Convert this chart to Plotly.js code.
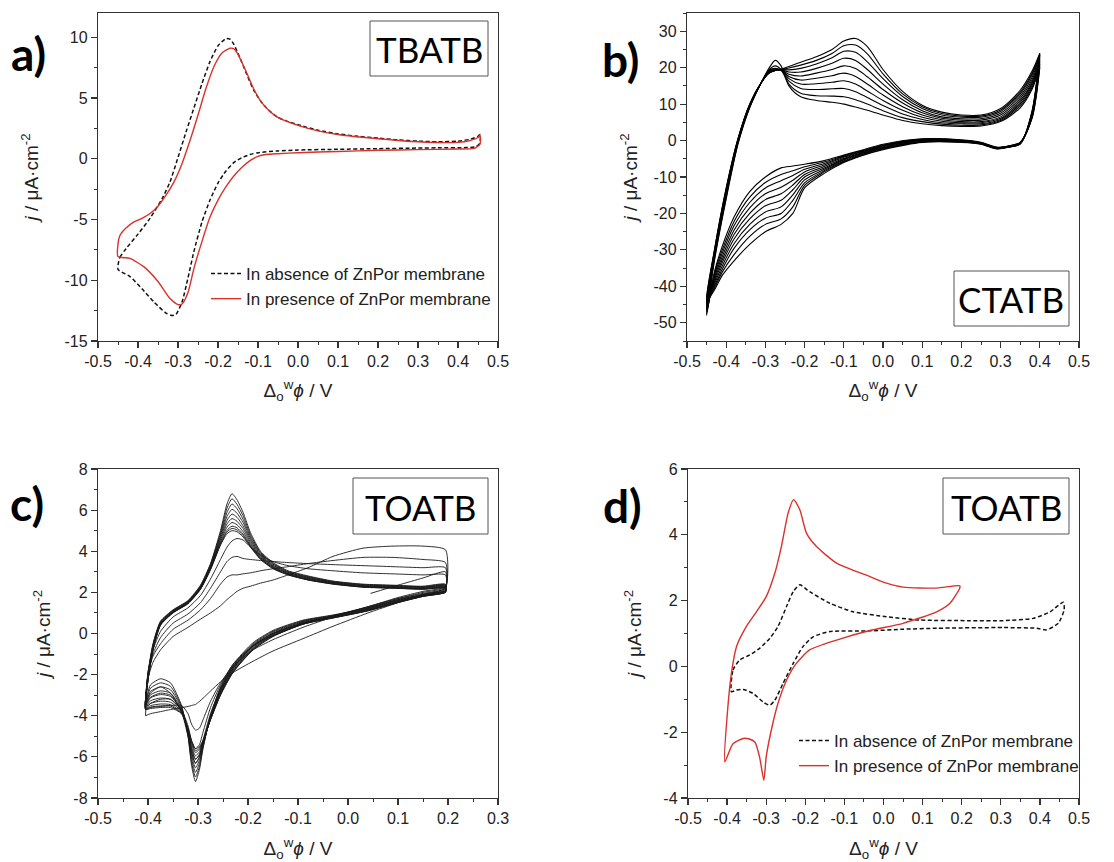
<!DOCTYPE html>
<html><head><meta charset="utf-8">
<script src="https://cdn.plot.ly/plotly-3.0.1.min.js"></script>
<style>html,body{margin:0;padding:0;background:#fff}#chart{width:1114px;height:862px}</style>
</head><body><div id="chart"></div>
<script>
// ---------- Panel a (TBATB) ----------
const aAbsX = [-0.45,-0.445,-0.43,-0.40,-0.37,-0.34,-0.32,-0.30,-0.28,-0.26,-0.24,-0.22,-0.20,-0.18,-0.17,-0.16,-0.145,-0.13,-0.11,-0.09,-0.07,-0.05,-0.02,0.0,0.05,0.10,0.15,0.20,0.25,0.30,0.35,0.40,0.43,0.45,0.455,
  0.455,0.445,0.42,0.35,0.30,0.20,0.10,0.0,-0.05,-0.10,-0.12,-0.14,-0.16,-0.18,-0.20,-0.22,-0.24,-0.26,-0.275,-0.29,-0.305,-0.315,-0.33,-0.36,-0.39,-0.42,-0.45];
const aAbsY = [-9.1,-8.1,-7.4,-6.2,-4.9,-3.3,-1.9,0.1,2.2,4.2,6.2,8.0,9.3,9.9,9.85,9.4,8.3,7.1,5.6,4.6,3.9,3.4,3.0,2.8,2.35,2.05,1.85,1.7,1.55,1.45,1.4,1.45,1.6,1.85,2.0,
  1.3,1.0,0.92,0.9,0.88,0.83,0.78,0.72,0.65,0.5,0.35,0.1,-0.3,-1.0,-2.0,-3.4,-5.2,-7.6,-9.8,-11.8,-12.8,-12.9,-12.7,-11.8,-10.7,-9.7,-9.1];
const aPreX = [-0.45,-0.45,-0.445,-0.43,-0.41,-0.39,-0.37,-0.35,-0.33,-0.31,-0.29,-0.27,-0.25,-0.23,-0.21,-0.19,-0.17,-0.16,-0.15,-0.13,-0.11,-0.09,-0.07,-0.05,0.0,0.05,0.10,0.20,0.30,0.40,0.43,0.45,0.455,
  0.455,0.44,0.40,0.30,0.20,0.10,0.0,-0.05,-0.08,-0.10,-0.12,-0.14,-0.16,-0.18,-0.20,-0.22,-0.24,-0.26,-0.275,-0.29,-0.30,-0.32,-0.35,-0.385,-0.42,-0.45];
const aPreY = [-8.05,-7.0,-6.3,-5.7,-5.2,-4.9,-4.5,-3.9,-3.0,-1.9,-0.4,1.5,3.6,5.8,7.6,8.7,9.1,9.05,8.6,7.2,5.7,4.6,3.9,3.4,2.75,2.3,2.0,1.65,1.4,1.35,1.5,1.75,1.95,
  1.2,0.85,0.8,0.75,0.7,0.6,0.5,0.42,0.35,0.2,-0.15,-0.7,-1.4,-2.3,-3.4,-4.8,-6.8,-9.0,-11.0,-11.95,-12.0,-11.5,-10.1,-8.9,-8.2,-8.05];

// ---------- Panel b (CTATB), repeated cycles ----------
const bUpX = [-0.45,-0.43,-0.40,-0.37,-0.34,-0.31,-0.29,-0.275,-0.26,-0.24,-0.21,-0.17,-0.13,-0.10,-0.07,-0.04,0.0,0.05,0.10,0.15,0.20,0.25,0.30,0.35,0.38,0.40];
const bLowX = [0.40,0.38,0.35,0.32,0.29,0.25,0.20,0.10,0.0,-0.05,-0.10,-0.15,-0.20,-0.23,-0.26,-0.30,-0.34,-0.38,-0.41,-0.43,-0.45];
const bUpY = [
 [-48,-33,-16,-1,9,16,20,22,20.5,15,12,11,10.5,10,9.2,8.3,7.0,5.5,4.6,4.1,3.9,4.0,5.2,9.0,14,20],
 [-47.5,-32.5,-15.5,-0.8,9.2,16,19.5,20.5,19.5,15.5,13,12.3,12.2,12,11.2,10,8.2,6.3,5.2,4.5,4.2,4.3,5.5,9.5,14.5,20.5],
 [-47,-32,-15,-0.5,9.4,16,19.3,19.8,19.3,16.3,14.3,14,14.2,14.3,13.4,11.8,9.6,7.3,5.8,4.9,4.6,4.6,5.8,10,15,21],
 [-46.5,-31.8,-14.8,-0.3,9.5,16,19.1,19.5,19.3,17,15.5,15.6,16,16.4,15.5,13.6,11,8.3,6.4,5.3,4.9,4.9,6.1,10.5,15.5,21.5],
 [-46,-31.5,-14.5,0,9.6,16,19,19.4,19.3,17.6,16.6,17.1,17.8,18.5,17.6,15.5,12.5,9.3,7.0,5.7,5.2,5.2,6.5,11,16,22],
 [-45.5,-31,-14,0,9.7,16,18.9,19.3,19.4,18.2,17.7,18.5,19.5,20.5,19.8,17.5,14,10.3,7.6,6.1,5.6,5.6,7.0,11.6,16.6,22.5],
 [-45,-30.8,-13.8,0.2,9.8,16,18.8,19.3,19.4,18.8,18.8,19.8,21.2,22.6,22,19.5,15.5,11.2,8.2,6.5,6.0,6.0,7.5,12.2,17.3,23],
 [-44.5,-30.5,-13.5,0.3,9.9,16,18.7,19.2,19.5,19.4,19.8,21.0,22.7,24.5,24.2,21.6,17,12.1,8.8,7.0,6.4,6.4,8.0,12.8,18,23.4],
 [-44.2,-30.2,-13.2,0.4,10,16,18.6,19.2,19.5,19.9,20.7,22.0,23.9,26,26.2,23.8,18.3,12.8,9.3,7.4,6.7,6.7,8.4,13.3,18.5,23.7],
 [-44,-30,-13,0.5,10,16,18.5,19.2,19.6,20.3,21.5,23,25,27.3,28,25.8,19.5,13.5,9.7,7.8,7.0,7.0,8.8,13.8,19,24]
];
const bLowY = [
 [20,6,-0.5,-1.5,-1.8,-0.5,0.2,0.5,-1.0,-2.5,-4.0,-5.5,-6.5,-7.0,-7.5,-10,-14,-21,-29,-36,-48],
 [20.5,6.2,-0.5,-1.5,-1.9,-0.6,0.1,0.4,-1.2,-2.7,-4.2,-5.9,-7.2,-8.3,-9.3,-11.5,-15.5,-22.2,-30,-36.5,-47.5],
 [21,6.4,-0.6,-1.6,-1.9,-0.6,0.0,0.3,-1.4,-2.9,-4.4,-6.3,-7.9,-9.6,-11,-13,-17,-23.4,-30.9,-37,-47],
 [21.5,6.6,-0.6,-1.6,-2.0,-0.7,-0.1,0.2,-1.5,-3.0,-4.6,-6.7,-8.6,-10.9,-12.8,-14.6,-18.5,-24.6,-31.8,-37.6,-46.5],
 [22,6.9,-0.7,-1.6,-2.0,-0.7,-0.1,0.1,-1.7,-3.2,-4.9,-7.1,-9.3,-12.2,-14.6,-16.2,-20,-25.8,-32.7,-38.2,-46],
 [22.5,7.1,-0.7,-1.7,-2.1,-0.8,-0.2,0.0,-1.9,-3.4,-5.1,-7.5,-10,-13.5,-16.4,-17.9,-21.5,-27,-33.5,-38.8,-45.5],
 [23,7.3,-0.8,-1.7,-2.1,-0.8,-0.3,-0.2,-2.0,-3.5,-5.3,-7.9,-10.8,-14.9,-18.2,-19.6,-23,-28.3,-34.4,-39.4,-45],
 [23.4,7.6,-0.8,-1.8,-2.2,-0.9,-0.3,-0.3,-2.2,-3.7,-5.6,-8.3,-11.6,-16.4,-20,-21.3,-24.5,-29.6,-35.3,-40,-44.5],
 [23.7,7.8,-0.9,-1.8,-2.2,-0.9,-0.4,-0.4,-2.3,-3.9,-5.8,-8.6,-12.3,-18.2,-21.5,-23,-26.3,-31.3,-36.1,-40.5,-44.2],
 [24,8,-1,-1.8,-2.3,-1.0,-0.5,-0.5,-2.5,-4.0,-6.0,-9,-13,-20,-23,-25,-28.5,-33,-37,-41,-44]
];

// ---------- Panel c (TOATB), repeated cycles ----------
const cStartX = [0.045,0.10,0.15,0.195];
const cStartY = [1.95,2.35,2.7,3.0];
const cUpX = [-0.405,-0.40,-0.39,-0.375,-0.35,-0.32,-0.295,-0.275,-0.255,-0.242,-0.232,-0.222,-0.21,-0.195,-0.175,-0.15,-0.12,-0.08,-0.03,0.03,0.09,0.15,0.195];
const cLowX = [0.195,0.15,0.10,0.04,-0.03,-0.09,-0.15,-0.19,-0.23,-0.255,-0.275,-0.29,-0.297,-0.305,-0.313,-0.32,-0.333,-0.355,-0.375,-0.395,-0.405];
const cUpY = [
 null,
 [-4.0,-2.2,-1.4,-0.8,-0.15,0.3,0.7,1.0,1.35,1.65,1.85,2.05,2.2,2.3,2.45,2.6,2.85,3.2,3.75,4.15,4.25,4.25,4.07],
 [-3.7,-2.0,-1.1,-0.5,0.2,0.65,1.15,1.7,2.4,2.75,2.85,2.85,2.9,2.95,3.05,3.15,3.25,3.4,3.55,3.7,3.7,3.6,3.45],
 [-3.6,-2.0,-1.0,-0.2,0.5,0.95,1.5,2.2,3.0,3.5,3.7,3.75,3.65,3.6,3.55,3.5,3.45,3.4,3.35,3.3,3.25,3.2,3.2],
 [-3.5,-1.9,-0.8,0.1,0.8,1.25,1.85,2.65,3.6,4.2,4.5,4.62,4.55,4.2,3.8,3.5,3.3,3.15,3.05,2.95,2.9,2.85,2.85],
 [-3.7,-2.3,-0.8,0.4,1.0,1.45,2.15,3.1,4.3,4.85,5.0,4.95,4.7,4.2,3.6,3.15,2.85,2.6,2.4,2.25,2.2,2.15,2.2],
 [-3.68,-2.28,-0.78,0.41,1.01,1.46,2.16,3.12,4.34,4.94,5.11,5.04,4.77,4.24,3.62,3.17,2.86,2.61,2.41,2.26,2.21,2.16,2.21],
 [-3.65,-2.25,-0.76,0.42,1.02,1.47,2.17,3.14,4.38,5.02,5.22,5.14,4.84,4.28,3.65,3.19,2.87,2.62,2.42,2.27,2.22,2.17,2.22],
 [-3.61,-2.21,-0.73,0.44,1.03,1.48,2.19,3.17,4.45,5.17,5.4,5.29,4.96,4.35,3.69,3.22,2.89,2.64,2.43,2.28,2.23,2.18,2.24],
 [-3.57,-2.17,-0.7,0.47,1.05,1.5,2.22,3.2,4.53,5.33,5.59,5.46,5.1,4.43,3.73,3.25,2.92,2.67,2.45,2.3,2.25,2.2,2.27],
 [-3.52,-2.12,-0.67,0.49,1.07,1.52,2.24,3.24,4.62,5.5,5.81,5.65,5.24,4.52,3.78,3.29,2.94,2.69,2.47,2.32,2.27,2.22,2.29],
 [-3.47,-2.07,-0.63,0.52,1.09,1.54,2.27,3.27,4.71,5.69,6.04,5.85,5.4,4.61,3.83,3.32,2.97,2.72,2.49,2.34,2.29,2.24,2.32],
 [-3.41,-2.01,-0.58,0.54,1.11,1.56,2.29,3.32,4.8,5.89,6.3,6.07,5.56,4.7,3.89,3.37,2.99,2.74,2.51,2.36,2.31,2.26,2.34],
 [-3.36,-1.96,-0.54,0.57,1.13,1.58,2.32,3.36,4.9,6.1,6.55,6.28,5.73,4.8,3.94,3.41,3.02,2.77,2.53,2.38,2.33,2.28,2.37],
 [-3.3,-1.9,-0.5,0.6,1.15,1.6,2.35,3.4,5.0,6.3,6.8,6.5,5.9,4.9,4.0,3.45,3.05,2.8,2.55,2.4,2.35,2.3,2.4]
];
const cLowY = [
 [2.2,1.9,1.5,1.0,0.35,-0.25,-0.85,-1.35,-1.9,-2.35,-2.8,-3.15,-3.3,-3.45,-3.5,-3.55,-3.6,-3.7,-3.8,-3.9,-4.0],
 [2.3,2.05,1.75,1.3,0.8,0.3,-0.3,-0.8,-1.6,-2.4,-3.3,-4.2,-4.6,-4.7,-4.4,-3.9,-3.5,-3.5,-3.55,-3.6,-3.7],
 [2.25,2.0,1.7,1.3,0.85,0.45,-0.1,-0.6,-1.5,-2.5,-3.6,-4.8,-5.4,-5.6,-5.2,-4.5,-3.7,-3.2,-3.2,-3.4,-3.6],
 [2.2,1.95,1.7,1.3,0.85,0.5,0.0,-0.6,-1.6,-2.7,-3.9,-5.2,-5.9,-6.1,-5.6,-4.8,-3.8,-3.0,-2.9,-3.1,-3.5],
 [2.15,1.9,1.65,1.25,0.85,0.5,0.0,-0.6,-1.7,-2.8,-4.0,-5.3,-6.0,-6.3,-5.8,-5.0,-3.8,-2.9,-2.6,-2.9,-3.4],
 [2.0,1.8,1.5,1.1,0.75,0.45,-0.15,-0.8,-1.9,-3.0,-4.2,-5.2,-5.5,-5.6,-5.2,-4.6,-3.9,-3.6,-3.6,-3.65,-3.7],
 [2.01,1.81,1.51,1.11,0.76,0.46,-0.13,-0.78,-1.88,-2.98,-4.19,-5.22,-5.57,-5.7,-5.27,-4.62,-3.88,-3.53,-3.52,-3.58,-3.68],
 [2.01,1.81,1.52,1.12,0.77,0.47,-0.11,-0.76,-1.85,-2.95,-4.18,-5.25,-5.63,-5.79,-5.34,-4.65,-3.85,-3.46,-3.43,-3.51,-3.65],
 [2.02,1.82,1.53,1.13,0.78,0.49,-0.08,-0.72,-1.81,-2.91,-4.16,-5.29,-5.74,-5.95,-5.46,-4.69,-3.81,-3.34,-3.29,-3.4,-3.61],
 [2.03,1.83,1.55,1.15,0.8,0.52,-0.05,-0.68,-1.77,-2.87,-4.13,-5.33,-5.86,-6.13,-5.6,-4.73,-3.77,-3.2,-3.14,-3.27,-3.57],
 [2.05,1.85,1.57,1.17,0.82,0.54,-0.02,-0.64,-1.72,-2.82,-4.11,-5.38,-6.0,-6.32,-5.74,-4.78,-3.72,-3.06,-2.97,-3.13,-3.52],
 [2.06,1.86,1.59,1.19,0.84,0.57,0.02,-0.6,-1.67,-2.77,-4.08,-5.43,-6.14,-6.53,-5.9,-4.83,-3.67,-2.9,-2.79,-2.98,-3.47],
 [2.07,1.87,1.61,1.21,0.86,0.59,0.07,-0.55,-1.61,-2.71,-4.06,-5.49,-6.29,-6.75,-6.06,-4.89,-3.61,-2.74,-2.59,-2.82,-3.41],
 [2.09,1.89,1.63,1.23,0.88,0.62,0.11,-0.5,-1.56,-2.66,-4.03,-5.54,-6.45,-6.98,-6.23,-4.94,-3.56,-2.57,-2.4,-2.66,-3.36],
 [2.1,1.9,1.65,1.25,0.9,0.65,0.15,-0.45,-1.5,-2.6,-4.0,-5.6,-6.6,-7.2,-6.4,-5.0,-3.5,-2.4,-2.2,-2.5,-3.3]
];

// ---------- Panel d (TOATB, with / without membrane) ----------
const dAbsX = [-0.389,-0.385,-0.368,-0.342,-0.317,-0.291,-0.27,-0.248,-0.231,-0.214,-0.189,-0.137,-0.078,0.008,0.093,0.221,0.306,0.383,0.426,0.46,
  0.462,0.447,0.417,0.392,0.306,0.136,0.05,-0.035,-0.137,-0.18,-0.206,-0.231,-0.257,-0.278,-0.291,-0.308,-0.334,-0.359,-0.376,-0.389];
const dAbsY = [-0.77,-0.11,0.19,0.35,0.55,0.85,1.21,1.82,2.27,2.48,2.27,1.92,1.66,1.51,1.41,1.39,1.39,1.46,1.66,1.95,
  1.72,1.31,1.11,1.16,1.18,1.16,1.13,1.08,1.06,0.9,0.6,0.09,-0.52,-1.03,-1.18,-1.08,-0.82,-0.7,-0.72,-0.77];
const dPreX = [-0.406,-0.398,-0.389,-0.376,-0.351,-0.325,-0.30,-0.278,-0.261,-0.244,-0.23,-0.214,-0.197,-0.172,-0.12,-0.035,0.008,0.05,0.136,0.195,
  0.195,0.17,0.136,0.05,-0.035,-0.12,-0.189,-0.223,-0.248,-0.27,-0.287,-0.30,-0.306,-0.317,-0.329,-0.345,-0.359,-0.385,-0.406];
const dPreY = [-2.9,-1.23,-0.21,0.6,1.21,1.66,2.12,2.83,3.65,4.66,5.07,4.76,4.05,3.65,3.14,2.73,2.53,2.41,2.38,2.45,
  2.38,1.92,1.66,1.31,1.09,0.8,0.5,0.09,-0.42,-1.13,-1.94,-2.75,-3.46,-2.75,-2.3,-2.2,-2.19,-2.35,-2.9];

// ---------- Tick labels ----------
const xTickVals = [-0.5,-0.4,-0.3,-0.2,-0.1,0.0,0.1,0.2,0.3,0.4,0.5];
const xTickText = ['-0.5','-0.4','-0.3','-0.2','-0.1','0.0','0.1','0.2','0.3','0.4','0.5'];
const cXTickVals = [-0.5,-0.4,-0.3,-0.2,-0.1,0.0,0.1,0.2,0.3];
const cXTickText = ['-0.5','-0.4','-0.3','-0.2','-0.1','0.0','0.1','0.2','0.3'];
const aYTickVals = [-15,-10,-5,0,5,10];
const aYTickText = ['-15','-10','-5','0','5','10'];
const bYTickVals = [-50,-40,-30,-20,-10,0,10,20,30];
const bYTickText = ['-50','-40','-30','-20','-10','0','10','20','30'];
const cYTickVals = [-8,-6,-4,-2,0,2,4,6,8];
const cYTickText = ['-8','-6','-4','-2','0','2','4','6','8'];
const dYTickVals = [-4,-2,0,2,4,6];
const dYTickText = ['-4','-2','0','2','4','6'];
const legendNames = ['In absence of ZnPor membrane','In presence of ZnPor membrane'];
const panelLetters = ['a)','b)','c)','d)'];
const panelSalts = ['TBATB','CTATB','TOATB','TOATB'];

// ---------- Build ----------
const W = 1114, H = 862;
const px = p => p / W, py = p => 1 - p / H;
const FONT = 'Liberation Sans, Arial, sans-serif';
const LABELFONT = 'Lato, Open Sans, sans-serif';
const DASH = '4px,2.5px';
const traces = [];

traces.push({x: aAbsX, y: aAbsY, xaxis:'x', yaxis:'y', mode:'lines', name: legendNames[0], legend:'legend',
  line:{color:'#111', width:1.5, dash:DASH, shape:'spline', smoothing:0.6}});
traces.push({x: aPreX, y: aPreY, xaxis:'x', yaxis:'y', mode:'lines', name: legendNames[1], legend:'legend',
  line:{color:'#d9312b', width:1.4, shape:'spline', smoothing:0.6}});

for (let i = 0; i < bUpY.length; i++) {
  traces.push({x: bUpX.concat(bLowX), y: bUpY[i].concat(bLowY[i]), xaxis:'x2', yaxis:'y2', mode:'lines', showlegend:false,
    line:{color:'#000', width:1.1, shape:'spline', smoothing:0.8}});
}
for (let i = 0; i < cLowY.length; i++) {
  const ux = i === 0 ? cStartX : cUpX;
  const uy = i === 0 ? cStartY : cUpY[i];
  traces.push({x: ux.concat(cLowX), y: uy.concat(cLowY[i]), xaxis:'x3', yaxis:'y3', mode:'lines', showlegend:false,
    line:{color:'#1a1a1a', width:0.9, shape:'spline', smoothing:0.6}});
}

traces.push({x: dAbsX, y: dAbsY, xaxis:'x4', yaxis:'y4', mode:'lines', name: legendNames[0], legend:'legend2',
  line:{color:'#111', width:1.5, dash:DASH, shape:'spline', smoothing:0.6}});
traces.push({x: dPreX, y: dPreY, xaxis:'x4', yaxis:'y4', mode:'lines', name: legendNames[1], legend:'legend2',
  line:{color:'#d9312b', width:1.4, shape:'spline', smoothing:0.6}});

const xTitle = 'Δ<sub>o</sub><sup>w</sup><i>ϕ</i> / V';
const yTitle = '<i>j</i> / μA·cm<sup>-2</sup>';

function xAxis(dom, anchor, range, vals, text, standoff) {
  return {domain: dom, anchor: anchor, range: range, showline:true, mirror:true, linecolor:'#333', linewidth:1.2,
    ticks:'outside', ticklen:6, tickwidth:1.2, tickcolor:'#333', showgrid:false, zeroline:false,
    tickmode:'array', tickvals: vals, ticktext: text,
    minor:{ticks:'outside', ticklen:3, tickwidth:1, tickcolor:'#333', tickmode:'linear', tick0:0, dtick:0.05, showgrid:false},
    tickfont:{family:FONT, size:16, color:'#222'},
    title:{text: xTitle, font:{family:FONT, size:19, color:'#222'}, standoff: standoff}};
}
function yAxis(dom, anchor, range, vals, text, minorStep, standoff) {
  return {domain: dom, anchor: anchor, range: range, showline:true, mirror:true, linecolor:'#333', linewidth:1.2,
    ticks:'outside', ticklen:6, tickwidth:1.2, tickcolor:'#333', showgrid:false, zeroline:false,
    tickmode:'array', tickvals: vals, ticktext: text,
    minor:{ticks:'outside', ticklen:3, tickwidth:1, tickcolor:'#333', tickmode:'linear', tick0:0, dtick:minorStep, showgrid:false},
    tickfont:{family:FONT, size:16, color:'#222'},
    title:{text: yTitle, font:{family:FONT, size:19, color:'#222'}, standoff: standoff}};
}

function cornerLabel(t, x, y) {
  return {text:'<b>'+t+'</b>', x:px(x), y:py(y), xref:'paper', yref:'paper', xanchor:'center', yanchor:'middle',
    showarrow:false, font:{family:LABELFONT, size:46, color:'#000'}};
}
function saltLabel(t, x, y) {
  return {text:t, x:px(x), y:py(y), xref:'paper', yref:'paper', xanchor:'center', yanchor:'middle',
    showarrow:false, font:{family:LABELFONT, size:35, color:'#000'}};
}
function box(x0, y0, x1, y1) {
  return {type:'rect', xref:'paper', yref:'paper', x0:px(x0), x1:px(x1), y0:py(y1), y1:py(y0), line:{color:'#555', width:1}};
}

const topY = [py(341), py(13)], botY = [py(798), py(469)];
const layout = {
  width: W, height: H, margin:{l:0,r:0,t:0,b:0}, paper_bgcolor:'#fff', plot_bgcolor:'#fff',
  font:{family:FONT, color:'#222', size:16},
  xaxis: xAxis([px(98), px(498)], 'y', [-0.5, 0.5], xTickVals, xTickText, 14),
  yaxis: yAxis(topY, 'x', [-15, 12], aYTickVals, aYTickText, 2.5, 20),
  xaxis2: xAxis([px(687), px(1079)], 'y2', [-0.5, 0.5], xTickVals, xTickText, 14),
  yaxis2: yAxis(topY, 'x2', [-55, 35], bYTickVals, bYTickText, 5, 10),
  xaxis3: xAxis([px(98), px(498)], 'y3', [-0.5, 0.3], cXTickVals, cXTickText, 20),
  yaxis3: yAxis(botY, 'x3', [-8, 8], cYTickVals, cYTickText, 1, 17),
  xaxis4: xAxis([px(688), px(1079)], 'y4', [-0.5, 0.5], xTickVals, xTickText, 20),
  yaxis4: yAxis(botY, 'x4', [-4, 6], dYTickVals, dYTickText, 1, 16),
  legend: {x: px(206), y: py(256), xanchor:'left', yanchor:'top', bgcolor:'rgba(0,0,0,0)', borderwidth:0,
    font:{family:FONT, size:17, color:'#222'}, tracegroupgap:0},
  legend2: {x: px(794), y: py(723), xanchor:'left', yanchor:'top', bgcolor:'rgba(0,0,0,0)', borderwidth:0,
    font:{family:FONT, size:17, color:'#222'}, tracegroupgap:0},
  shapes: [box(370,21,488,76), box(954,271,1069,326), box(353,478,488,534), box(943,478,1069,534)],
  annotations: [
    cornerLabel(panelLetters[0], 28, 53), cornerLabel(panelLetters[1], 621, 60),
    cornerLabel(panelLetters[2], 27, 503), cornerLabel(panelLetters[3], 622, 505),
    saltLabel(panelSalts[0], 429, 49), saltLabel(panelSalts[1], 1011, 299),
    saltLabel(panelSalts[2], 420, 507), saltLabel(panelSalts[3], 1006, 507)
  ]
};

Plotly.newPlot('chart', traces, layout, {displayModeBar:false, staticPlot:true});
</script></body></html>
